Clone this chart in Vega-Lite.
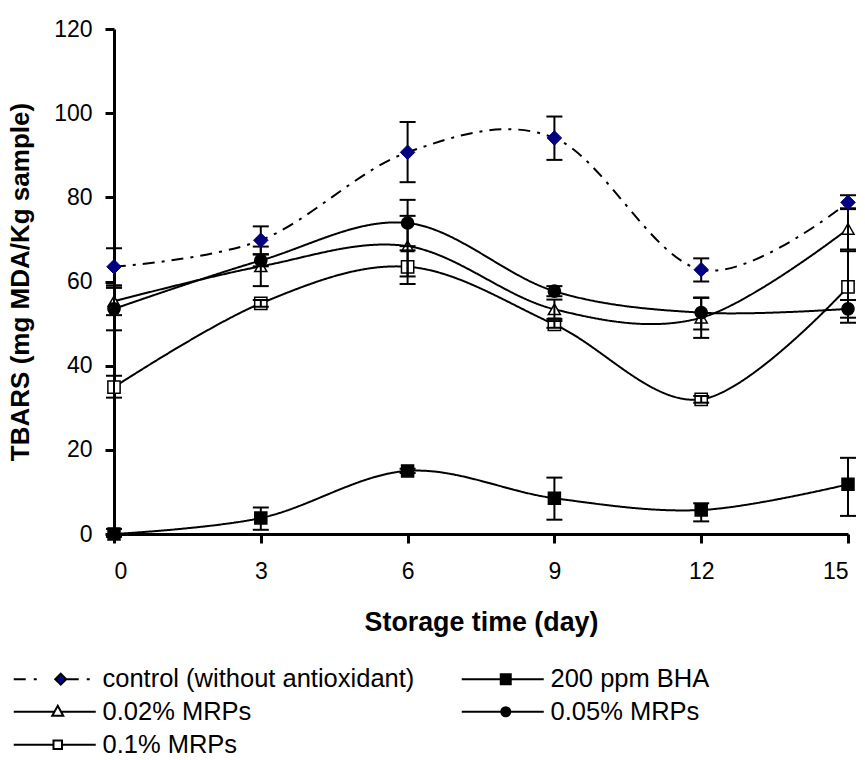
{
  "$schema": "https://vega.github.io/schema/vega-lite/v6.json",
  "width": 734,
  "height": 505,
  "autosize": {"type": "none"},
  "padding": {"left": 114, "top": 29, "right": 17, "bottom": 226},
  "background": "white",
  "config": {
    "view": {"stroke": null},
    "font": "Liberation Sans",
    "axis": {
      "grid": false,
      "domainColor": "black",
      "domainWidth": 3,
      "tickColor": "black",
      "tickWidth": 3,
      "tickSize": 9,
      "labelFont": "Liberation Sans",
      "labelFontSize": 23,
      "labelColor": "black",
      "labelPadding": 13,
      "titleFont": "Liberation Sans",
      "titleFontWeight": "bold",
      "titleColor": "black"
    }
  },
  "data": {
    "values": [
      {"series": "control (without antioxidant)", "day": 0, "tbars": 63.5, "lo": 59.1, "hi": 67.9},
      {"series": "control (without antioxidant)", "day": 3, "tbars": 69.8, "lo": 66.5, "hi": 73.1},
      {"series": "control (without antioxidant)", "day": 6, "tbars": 90.7, "lo": 83.6, "hi": 97.9},
      {"series": "control (without antioxidant)", "day": 9, "tbars": 94.1, "lo": 88.9, "hi": 99.2},
      {"series": "control (without antioxidant)", "day": 12, "tbars": 62.8, "lo": 60.0, "hi": 65.5},
      {"series": "control (without antioxidant)", "day": 15, "tbars": 78.8, "lo": 77.2, "hi": 80.5},
      {"series": "200 ppm BHA", "day": 0, "tbars": 0.0, "lo": -0.7, "hi": 1.2},
      {"series": "200 ppm BHA", "day": 3, "tbars": 3.8, "lo": 1.0, "hi": 6.3},
      {"series": "200 ppm BHA", "day": 6, "tbars": 15.0, "lo": 14.5, "hi": 15.5},
      {"series": "200 ppm BHA", "day": 9, "tbars": 8.5, "lo": 3.4, "hi": 13.4},
      {"series": "200 ppm BHA", "day": 12, "tbars": 5.7, "lo": 3.0, "hi": 7.3},
      {"series": "200 ppm BHA", "day": 15, "tbars": 11.8, "lo": 4.3, "hi": 18.1},
      {"series": "0.02% MRPs", "day": 0, "tbars": 55.3, "lo": 52.0, "hi": 58.5},
      {"series": "0.02% MRPs", "day": 3, "tbars": 63.6, "lo": 58.9, "hi": 68.3},
      {"series": "0.02% MRPs", "day": 6, "tbars": 68.4, "lo": 61.2, "hi": 75.6},
      {"series": "0.02% MRPs", "day": 9, "tbars": 53.4, "lo": 51.1, "hi": 55.7},
      {"series": "0.02% MRPs", "day": 12, "tbars": 51.4, "lo": 46.6, "hi": 56.2},
      {"series": "0.02% MRPs", "day": 15, "tbars": 72.5, "lo": 67.6, "hi": 77.4},
      {"series": "0.05% MRPs", "day": 0, "tbars": 53.5, "lo": 48.4, "hi": 58.6},
      {"series": "0.05% MRPs", "day": 3, "tbars": 65.0, "lo": 63.6, "hi": 66.4},
      {"series": "0.05% MRPs", "day": 6, "tbars": 73.9, "lo": 68.4, "hi": 79.4},
      {"series": "0.05% MRPs", "day": 9, "tbars": 57.7, "lo": 56.5, "hi": 58.9},
      {"series": "0.05% MRPs", "day": 12, "tbars": 52.6, "lo": 48.6, "hi": 56.1},
      {"series": "0.05% MRPs", "day": 15, "tbars": 53.5, "lo": 51.4, "hi": 55.6},
      {"series": "0.1% MRPs", "day": 0, "tbars": 34.9, "lo": 32.4, "hi": 37.6},
      {"series": "0.1% MRPs", "day": 3, "tbars": 54.8, "lo": 54.0, "hi": 55.6},
      {"series": "0.1% MRPs", "day": 6, "tbars": 63.5, "lo": 59.4, "hi": 67.4},
      {"series": "0.1% MRPs", "day": 9, "tbars": 49.8, "lo": 49.0, "hi": 50.6},
      {"series": "0.1% MRPs", "day": 12, "tbars": 32.0, "lo": 31.2, "hi": 32.8},
      {"series": "0.1% MRPs", "day": 15, "tbars": 58.7, "lo": 50.2, "hi": 67.2}
    ]
  },
  "encoding": {
    "x": {
      "field": "day",
      "type": "quantitative",
      "scale": {"domain": [0, 15], "nice": false},
      "axis": {"values": [0, 3, 6, 9, 12, 15], "title": "Storage time (day)", "titleFontSize": 26.8, "titlePadding": 26, "labelPadding": 17}
    },
    "y": {
      "field": "tbars",
      "type": "quantitative",
      "scale": {"domain": [0, 120], "nice": false},
      "axis": {"values": [0, 20, 40, 60, 80, 100, 120], "title": "TBARS (mg MDA/Kg sample)", "titleFontSize": 26, "titlePadding": 20}
    }
  },
  "layer": [
    {
      "mark": {"type": "line", "interpolate": "cardinal", "tension": 0, "stroke": "black", "strokeWidth": 2},
      "encoding": {
        "strokeDash": {
          "field": "series",
          "type": "nominal",
          "scale": {
            "domain": ["control (without antioxidant)", "200 ppm BHA", "0.02% MRPs", "0.05% MRPs", "0.1% MRPs"],
            "range": [[12, 7, 3, 7], [1, 0], [1, 0], [1, 0], [1, 0]]
          },
          "legend": null
        }
      }
    },
    {
      "mark": {"type": "point", "size": 0.0001, "stroke": "black", "strokeWidth": 2, "opacity": 1},
      "encoding": {
        "shape": {
          "field": "series",
          "type": "nominal",
          "scale": {
            "domain": ["control (without antioxidant)", "200 ppm BHA", "0.02% MRPs", "0.05% MRPs", "0.1% MRPs"],
            "range": [
              "M-1.2,0H1.2M2.8,0H3.4M9.4,0H11.8M13.4,0H14.0M8.2,-1.1L9.3,0L8.2,1.1L7.1,0Z",
              "M-1.2,0H15.2M6.6,-1L8.6,-1L8.6,1L6.6,1Z",
              "M-1.2,0H7.0M8.2,0H15.2M7.6,-1.2L8.7,0.8L6.5,0.8Z",
              "M-1.2,0H15.2M6.7,0A0.9,0.9 0 1,1 8.5,0A0.9,0.9 0 1,1 6.7,0Z",
              "M-1.2,0H6.75M8.45,0H15.2M6.75,-0.85H8.45V0.85H6.75Z"
            ]
          },
          "legend": {"title": null, "orient": "none", "legendX": -107, "legendY": 637, "direction": "horizontal", "columns": 2, "columnPadding": 40, "rowPadding": 6, "padding": 0, "labelFont": "Liberation Sans", "labelFontSize": 25.5, "labelColor": "black", "labelLimit": 600, "labelOffset": 70, "symbolSize": 100, "symbolStrokeWidth": 2, "symbolStrokeColor": "black", "symbolOpacity": 1,
            "encode": {"symbols": {"update": {"stroke": {"value": "black"}, "strokeWidth": {"value": 2}}}}}
        },
        "fill": {
          "field": "series",
          "type": "nominal",
          "scale": {
            "domain": ["control (without antioxidant)", "200 ppm BHA", "0.02% MRPs", "0.05% MRPs", "0.1% MRPs"],
            "range": ["#000080", "black", "white", "black", "white"]
          },
          "legend": {"title": null, "orient": "none", "legendX": -107, "legendY": 637, "direction": "horizontal", "columns": 2, "columnPadding": 40, "rowPadding": 6, "padding": 0, "labelFont": "Liberation Sans", "labelFontSize": 25.5, "labelColor": "black", "labelLimit": 600, "labelOffset": 70, "symbolSize": 100, "symbolStrokeWidth": 2, "symbolStrokeColor": "black", "symbolOpacity": 1,
            "encode": {"symbols": {"update": {"stroke": {"value": "black"}, "strokeWidth": {"value": 2}}}}}
        }
      }
    },
    {
      "transform": [{"filter": "datum.series !== 'control (without antioxidant)'"}],
      "mark": {"type": "point", "stroke": "black", "strokeWidth": 1.5, "opacity": 1},
      "encoding": {
        "shape": {
          "field": "series",
          "type": "nominal",
          "scale": {"domain": ["200 ppm BHA", "0.02% MRPs", "0.05% MRPs", "0.1% MRPs"], "range": ["square", "triangle-up", "circle", "square"]},
          "legend": null
        },
        "fill": {
          "field": "series",
          "type": "nominal",
          "scale": {"domain": ["200 ppm BHA", "0.02% MRPs", "0.05% MRPs", "0.1% MRPs"], "range": ["black", "white", "black", "white"]},
          "legend": null
        },
        "size": {
          "field": "series",
          "type": "nominal",
          "scale": {"domain": ["200 ppm BHA", "0.02% MRPs", "0.05% MRPs", "0.1% MRPs"], "range": [144, 150, 130, 105]},
          "legend": null
        }
      }
    },
    {
      "mark": {"type": "rule", "stroke": "black", "strokeWidth": 2},
      "encoding": {
        "y": {"field": "lo", "type": "quantitative", "scale": {"domain": [0, 120], "nice": false}, "title": "TBARS (mg MDA/Kg sample)"},
        "y2": {"field": "hi"}
      }
    },
    {
      "mark": {"type": "tick", "orient": "horizontal", "size": 16, "thickness": 2, "color": "black", "opacity": 1},
      "encoding": {
        "y": {"field": "lo", "type": "quantitative", "scale": {"domain": [0, 120], "nice": false}, "title": "TBARS (mg MDA/Kg sample)"}
      }
    },
    {
      "mark": {"type": "tick", "orient": "horizontal", "size": 16, "thickness": 2, "color": "black", "opacity": 1},
      "encoding": {
        "y": {"field": "hi", "type": "quantitative", "scale": {"domain": [0, 120], "nice": false}, "title": "TBARS (mg MDA/Kg sample)"}
      }
    },
    {
      "transform": [{"filter": "datum.series === 'control (without antioxidant)'"}],
      "mark": {"type": "point", "shape": "diamond", "filled": true, "fill": "#000080", "stroke": "#000080", "strokeWidth": 1, "size": 210, "opacity": 1}
    }
  ],
  "resolve": {"scale": {"shape": "independent", "fill": "independent", "size": "independent", "strokeDash": "independent"}}
}
